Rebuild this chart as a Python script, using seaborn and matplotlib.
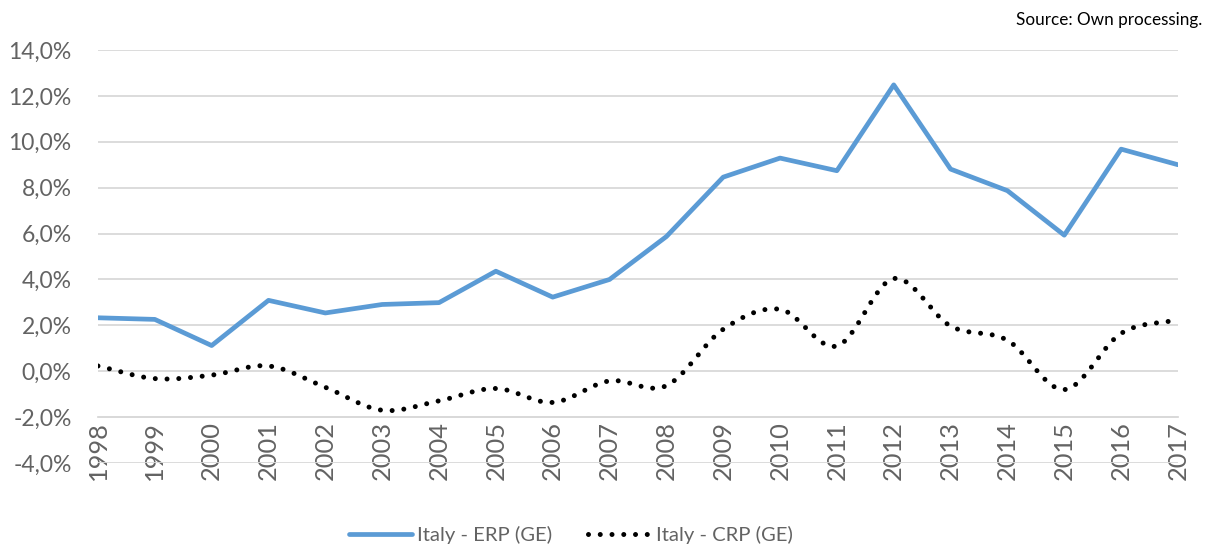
import numpy as np
import pandas as pd
import matplotlib
matplotlib.use("Agg")
import matplotlib.pyplot as plt
import seaborn as sns
from matplotlib.lines import Line2D

years = [1998, 1999, 2000, 2001, 2002, 2003, 2004, 2005, 2006, 2007,
         2008, 2009, 2010, 2011, 2012, 2013, 2014, 2015, 2016, 2017]
erp = [2.33, 2.26, 1.12, 3.09, 2.54, 2.91, 2.99, 4.36, 3.23, 4.00,
       5.87, 8.46, 9.29, 8.74, 12.48, 8.81, 7.87, 5.93, 9.68, 9.00]
crp = [0.23, -0.32, -0.17, 0.23, -0.70, -1.70, -1.29, -0.75, -1.36, -0.42,
       -0.63, 1.83, 2.70, 1.10, 4.04, 1.97, 1.35, -0.80, 1.65, 2.25]
y_ticks = [-4, -2, 0, 2, 4, 6, 8, 10, 12, 14]
erp_label = "Italy - ERP (GE)"
crp_label = "Italy - CRP (GE)"
source_text = "Source: Own processing."

sns.set_theme(style="white")
plt.rcParams["font.family"] = ["Lato", "DejaVu Sans"]

GRAY = "#636363"
BLUE = "#5B9BD5"


def catmull_rom(x, y, n=30):
    x = np.asarray(x, float)
    y = np.asarray(y, float)
    px = np.concatenate([[2 * x[0] - x[1]], x, [2 * x[-1] - x[-2]]])
    py = np.concatenate([[2 * y[0] - y[1]], y, [2 * y[-1] - y[-2]]])
    xs, ys = [], []
    t = np.linspace(0, 1, n, endpoint=False)
    for i in range(1, len(px) - 2):
        for P, out in ((px, xs), (py, ys)):
            p0, p1, p2, p3 = P[i - 1], P[i], P[i + 1], P[i + 2]
            out.extend(0.5 * ((2 * p1) + (-p0 + p2) * t
                              + (2 * p0 - 5 * p1 + 4 * p2 - p3) * t ** 2
                              + (-p0 + 3 * p1 - 3 * p2 + p3) * t ** 3))
    xs.append(x[-1])
    ys.append(y[-1])
    return np.array(xs), np.array(ys)


fig = plt.figure(figsize=(12.11, 5.49), dpi=100)
ax = fig.add_axes([0.0809, 0.1566, 0.8918, 0.7523])

df_erp = pd.DataFrame({"year": years, "value": erp})
sns.lineplot(data=df_erp, x="year", y="value", ax=ax, color=BLUE,
             linewidth=3.4, solid_capstyle="round", solid_joinstyle="round",
             zorder=3)

sx, sy = catmull_rom(years, crp)
df_crp = pd.DataFrame({"year": sx, "value": sy})
sns.lineplot(data=df_crp, x="year", y="value", ax=ax, color="black",
             linewidth=3.6, linestyle=(0, (0.001, 2.35)),
             dash_capstyle="round", zorder=3, sort=False, estimator=None)

# axis crosses at -2%
for s in ["top", "right", "left"]:
    ax.spines[s].set_visible(False)
ax.spines["bottom"].set_position(("data", -2))
ax.spines["bottom"].set_color("#D9D9D9")
ax.spines["bottom"].set_linewidth(1.3)

ax.set_xlim(years[0], years[-1])
ax.set_ylim(y_ticks[0], y_ticks[-1])
ax.set_yticks(y_ticks)
ax.set_yticklabels([f"{v:.1f}%".replace(".", ",") for v in y_ticks])
ax.set_xticks(years)
ax.set_xticklabels([str(y) for y in years], rotation=90)
ax.set_xlabel("")
ax.set_ylabel("")

ax.yaxis.grid(True, color="#D9D9D9", linewidth=1.3)
ax.xaxis.grid(False)
ax.tick_params(axis="y", length=0, pad=19, labelsize=16.5, labelcolor=GRAY)
ax.tick_params(axis="x", length=0, pad=3, labelsize=18.3, labelcolor=GRAY,
               labelrotation=90)

fig.text(0.993, 0.964, source_text, ha="right", va="center",
         fontsize=12.3, color="black")

handles = [
    Line2D([0], [0], color=BLUE, linewidth=3.4, solid_capstyle="round"),
    Line2D([0], [0], color="black", linewidth=3.6,
           linestyle=(0, (0.001, 2.35)), dash_capstyle="round"),
]
fig.legend(handles, [erp_label, crp_label], loc="center",
           bbox_to_anchor=(0.4715, 0.026), ncol=2, frameon=False,
           prop={"size": 14.6}, labelcolor=GRAY,
           handlelength=3.1, handletextpad=0.25, columnspacing=1.8)

fig.savefig("out.png", dpi=100)
